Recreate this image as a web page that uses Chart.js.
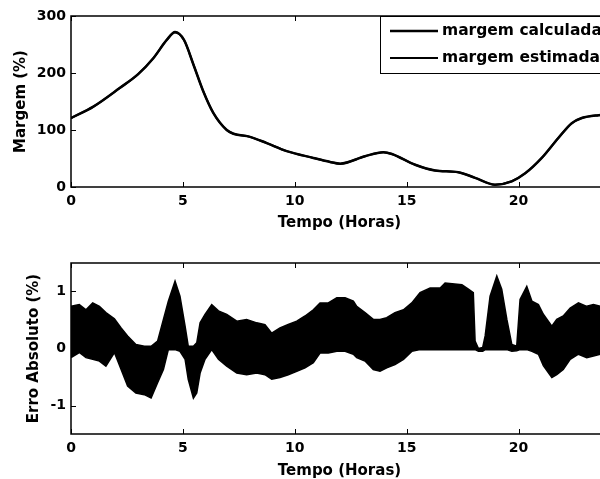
<!DOCTYPE html>
<html>
<head>
<meta charset="utf-8">
<script src="https://cdn.jsdelivr.net/npm/chart.js@4.4.1/dist/chart.umd.min.js"></script>
<style>
  html, body { margin: 0; padding: 0; background: #fff; }
  body { width: 600px; height: 479px; overflow: hidden; position: relative; }
  .painel { position: absolute; left: 0; width: 620px; }
  #topo { top: 0; height: 240px; }
  #baixo { top: 240px; height: 250px; }
</style>
</head>
<body>
<div class="painel" id="topo"><canvas id="graficoMargem"></canvas></div>
<div class="painel" id="baixo"><canvas id="graficoErro"></canvas></div>
<script>
// Margem (%) ao longo do dia
const tempoMargem = [0, 1.0, 2.19, 3.0, 3.68, 4.28, 4.65, 5.05, 5.47, 5.91, 6.36, 6.96, 7.26, 8.0, 8.75, 9.64, 10.83, 11.58, 12.03, 13.14, 13.96, 14.34, 15.38, 16.27, 17.31, 18.06, 18.95, 19.7, 20.3, 21.04, 21.78, 22.38, 22.83, 23.57, 24];
const margemCalculada = [121, 141, 174, 198, 226, 258, 272, 258, 215, 168, 130, 100, 93.5, 88, 77, 63, 51, 44, 41, 54, 61, 58, 39, 29, 26, 16, 4, 10, 24, 51, 86, 112, 121, 126, 127];
const margemEstimada = [121, 141, 174, 198, 226, 258, 271, 258, 215, 168, 130, 100, 93.5, 88, 77, 63, 51, 44, 41, 54, 61, 58, 39, 29, 26, 16, 4, 10, 24, 51, 86, 112, 121, 126, 127];

const tempoErro = [0, 0.37, 0.67, 0.97, 1.27, 1.56, 1.94, 2.24, 2.53, 2.9, 3.28, 3.58, 3.87, 4.13, 4.35, 4.65, 4.87, 5.1, 5.24, 5.47, 5.62, 5.77, 5.99, 6.29, 6.59, 6.96, 7.41, 7.85, 8.3, 8.67, 8.97, 9.34, 9.71, 10.09, 10.46, 10.83, 11.13, 11.5, 11.88, 12.25, 12.62, 12.77, 13.14, 13.51, 13.81, 14.11, 14.48, 14.86, 15.23, 15.6, 16.05, 16.5, 16.72, 17.47, 17.76, 17.98, 18.06, 18.21, 18.4, 18.51, 18.73, 19.03, 19.25, 19.48, 19.7, 19.92, 20.07, 20.37, 20.6, 20.89, 21.11, 21.49, 21.71, 22.0, 22.31, 22.68, 23.05, 23.35, 23.65, 24];
const erroMax = [0.74, 0.77, 0.68, 0.8, 0.74, 0.63, 0.52, 0.36, 0.22, 0.07, 0.04, 0.04, 0.13, 0.51, 0.83, 1.18, 0.92, 0.39, 0.04, 0.04, 0.1, 0.45, 0.6, 0.77, 0.66, 0.6, 0.48, 0.51, 0.45, 0.42, 0.27, 0.36, 0.42, 0.48, 0.57, 0.68, 0.8, 0.8, 0.89, 0.89, 0.83, 0.74, 0.63, 0.51, 0.51, 0.54, 0.63, 0.68, 0.8, 0.98, 1.06, 1.06, 1.15, 1.12, 1.04, 0.98, 0.13, 0.0, 0.02, 0.22, 0.92, 1.27, 1.04, 0.51, 0.07, 0.04, 0.86, 1.09, 0.83, 0.77, 0.6, 0.39, 0.51, 0.57, 0.71, 0.8, 0.74, 0.77, 0.74, 0.74];
const erroMin = [-0.16, -0.07, -0.16, -0.19, -0.22, -0.31, -0.07, -0.37, -0.66, -0.78, -0.81, -0.87, -0.6, -0.37, -0.02, -0.02, -0.05, -0.19, -0.54, -0.87, -0.78, -0.43, -0.19, -0.02, -0.19, -0.31, -0.43, -0.46, -0.43, -0.46, -0.54, -0.51, -0.46, -0.4, -0.34, -0.25, -0.08, -0.08, -0.05, -0.05, -0.1, -0.16, -0.22, -0.37, -0.4, -0.34, -0.28, -0.19, -0.05, -0.02, -0.02, -0.02, -0.02, -0.02, -0.02, -0.02, -0.02, -0.05, -0.05, -0.02, -0.02, -0.02, -0.02, -0.02, -0.05, -0.04, -0.02, -0.02, -0.05, -0.1, -0.3, -0.51, -0.46, -0.37, -0.19, -0.1, -0.16, -0.13, -0.1, -0.1];

// Marcas dos eixos
const ticksTempo = [0, 5, 10, 15, 20];
const ticksMargem = [0, 100, 200, 300];
const ticksErro = [-1, 0, 1];

Chart.defaults.font.family = "'DejaVu Sans', sans-serif";
Chart.defaults.font.weight = 'bold';
Chart.defaults.font.size = 14;
Chart.defaults.color = '#000';

const pares = (xs, ys) => xs.map((t, i) => ({ x: t, y: ys[i] }));
const fixaTicks = lista => scale => { scale.ticks = lista.map(v => ({ value: v })); };

// Caixa e marcas internas no estilo MATLAB
const eixoMatlab = {
    id: 'eixoMatlab',
    afterDatasetsDraw(chart) {
        const { ctx, chartArea: a, scales: { x, y } } = chart;
        ctx.save();
        ctx.strokeStyle = '#000';
        ctx.lineWidth = 1;
        ctx.beginPath();
        x.ticks.forEach(t => {
            const px = Math.round(x.getPixelForValue(t.value)) + 0.5;
            ctx.moveTo(px, a.bottom); ctx.lineTo(px, a.bottom - 5);
            ctx.moveTo(px, a.top); ctx.lineTo(px, a.top + 5);
        });
        y.ticks.forEach(t => {
            const py = Math.round(y.getPixelForValue(t.value)) + 0.5;
            ctx.moveTo(a.left, py); ctx.lineTo(a.left + 5, py);
            ctx.moveTo(a.right, py); ctx.lineTo(a.right - 5, py);
        });
        ctx.stroke();
        ctx.lineWidth = 1.5;
        ctx.strokeRect(a.left, a.top, a.right - a.left, a.bottom - a.top);
        ctx.restore();
    }
};

// Legenda dentro da area do grafico, canto superior direito
const legendaCaixa = {
    id: 'legendaCaixa',
    afterDraw(chart) {
        const { ctx, chartArea: a } = chart;
        const x0 = a.right - 228, y0 = a.top, alt = 57;
        ctx.save();
        ctx.fillStyle = '#fff';
        ctx.fillRect(x0, y0, 260, alt);
        ctx.strokeStyle = '#000';
        ctx.lineWidth = 1;
        ctx.strokeRect(x0 + 0.5, y0 + 0.5, 260, alt);
        ctx.font = "bold 15.5px 'DejaVu Sans', sans-serif";
        ctx.textBaseline = 'middle';
        ctx.fillStyle = '#000';
        chart.data.datasets.forEach((ds, i) => {
            const ly = y0 + 15 + i * 27;
            ctx.lineWidth = ds.borderWidth;
            ctx.beginPath();
            ctx.moveTo(x0 + 10, ly);
            ctx.lineTo(x0 + 58, ly);
            ctx.stroke();
            ctx.fillText(ds.label, x0 + 62, ly);
        });
        ctx.restore();
    }
};

function eixos(ticksY, minY, maxY, tituloY, larguraY, alturaX) {
    return {
        x: {
            type: 'linear', min: 0, max: 24,
            afterBuildTicks: fixaTicks(ticksTempo),
            afterFit: s => { s.height = alturaX; },
            grid: { display: false, drawTicks: false },
            border: { display: false },
            ticks: { padding: 6, maxRotation: 0 },
            title: { display: true, text: 'Tempo (Horas)', padding: 0, font: { size: 15, weight: 'bold' } }
        },
        y: {
            type: 'linear', min: minY, max: maxY,
            afterBuildTicks: fixaTicks(ticksY),
            afterFit: s => { s.width = larguraY; },
            grid: { display: false, drawTicks: false },
            border: { display: false },
            ticks: { padding: 5 },
            title: { display: true, text: tituloY, padding: 0, font: { size: 15, weight: 'bold' } }
        }
    };
}

document.addEventListener('DOMContentLoaded', function() {
    new Chart(document.getElementById('graficoMargem'), {
        type: 'line',
        data: {
            datasets: [{
                label: 'margem calculada',
                data: pares(tempoMargem, margemCalculada),
                borderColor: '#000', borderWidth: 2.5,
                pointRadius: 0, cubicInterpolationMode: 'monotone'
            }, {
                label: 'margem estimada',
                data: pares(tempoMargem, margemEstimada),
                borderColor: '#000', borderWidth: 2,
                pointRadius: 0, cubicInterpolationMode: 'monotone'
            }]
        },
        options: {
            responsive: true, maintainAspectRatio: false, animation: false,
            layout: { padding: { left: 12, right: 12, top: 16, bottom: 8 } },
            plugins: { legend: { display: false }, tooltip: { enabled: false } },
            scales: eixos(ticksMargem, 0, 300, 'Margem (%)', 59, 45)
        },
        plugins: [eixoMatlab, legendaCaixa]
    });

    new Chart(document.getElementById('graficoErro'), {
        type: 'line',
        data: {
            datasets: [{
                label: 'erro max',
                data: pares(tempoErro, erroMax),
                borderColor: '#000', backgroundColor: '#000', borderWidth: 1.5,
                pointRadius: 0, fill: '+1', tension: 0
            }, {
                label: 'erro min',
                data: pares(tempoErro, erroMin),
                borderColor: '#000', borderWidth: 1.5,
                pointRadius: 0, fill: false, tension: 0
            }]
        },
        options: {
            responsive: true, maintainAspectRatio: false, animation: false,
            layout: { padding: { left: 25, right: 12, top: 23, bottom: 10 } },
            plugins: { legend: { display: false }, tooltip: { enabled: false } },
            scales: eixos(ticksErro, -1.5, 1.5, 'Erro Absoluto (%)', 46, 46)
        },
        plugins: [eixoMatlab]
    });
});
</script>
</body>
</html>
